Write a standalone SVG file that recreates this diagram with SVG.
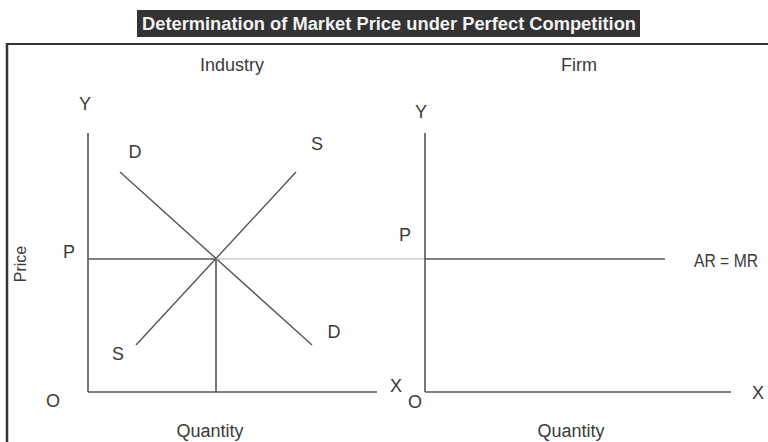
<svg xmlns="http://www.w3.org/2000/svg" width="768" height="442" viewBox="0 0 768 442">
  <style>
    .t { font-family: "Liberation Sans", Arial, sans-serif; font-size: 18px; fill: #3a3a3a; }
    .m { text-anchor: middle; }
    .ax { stroke: #555; stroke-width: 1.6; fill: none; }
    .cv { stroke: #555; stroke-width: 1.4; fill: none; }
    .lt { stroke: #b0b0b0; stroke-width: 1.2; fill: none; }
  </style>
  <rect x="0" y="0" width="768" height="442" fill="#ffffff"/>
  <g id="title">
    <rect x="137" y="10" width="503" height="27" fill="#333333"/>
    <text x="389" y="29.5" text-anchor="middle" style="font-family: 'Liberation Sans', Arial, sans-serif; font-size: 18px; font-weight: bold; fill: #f2f2f2;" textLength="494" lengthAdjust="spacingAndGlyphs">Determination of Market Price under Perfect Competition</text>
  </g>
  <g id="frame">
    <line x1="7" y1="44" x2="768" y2="44" stroke="#333" stroke-width="2"/>
    <line x1="7" y1="43" x2="7" y2="442" stroke="#333" stroke-width="2.5"/>
  </g>
  <g id="industry">
    <text class="t m" x="232" y="71">Industry</text>
    <text class="t m" x="85" y="110">Y</text>
    <text class="t m" x="135" y="158">D</text>
    <text class="t m" x="317" y="150">S</text>
    <text class="t m" x="69" y="258">P</text>
    <text class="t m" x="118" y="360">S</text>
    <text class="t m" x="334" y="338">D</text>
    <text class="t m" x="53" y="407">O</text>
    <text class="t m" x="396" y="392">X</text>
    <text class="t m" x="210" y="437">Quantity</text>
    <text class="t m" x="0" y="0" transform="translate(26,264) rotate(-90)" style="font-size:16px">Price</text>
  </g>
  <g id="firm">
    <text class="t m" x="579" y="71">Firm</text>
    <text class="t m" x="421" y="118">Y</text>
    <text class="t m" x="405" y="241">P</text>
    <text class="t" x="694" y="267" textLength="64" lengthAdjust="spacingAndGlyphs">AR = MR</text>
    <text class="t m" x="415" y="408">O</text>
    <text class="t m" x="758" y="399">X</text>
    <text class="t m" x="571" y="437">Quantity</text>
  </g>
  <g id="connectors">
    <line class="ax" x1="88" y1="133" x2="88" y2="392"/>
    <line class="ax" x1="88" y1="392" x2="377" y2="392"/>
    <line class="cv" x1="120" y1="172" x2="312" y2="345"/>
    <line class="cv" x1="296" y1="172" x2="136" y2="345"/>
    <line class="ax" x1="88" y1="259" x2="216" y2="259"/>
    <line class="ax" x1="216" y1="259" x2="216" y2="392"/>
    <line class="lt" x1="216" y1="259" x2="425" y2="259"/>
    <line class="ax" x1="425" y1="133" x2="425" y2="392"/>
    <line class="ax" x1="425" y1="392" x2="731" y2="392"/>
    <line class="ax" x1="425" y1="259" x2="665" y2="259"/>
  </g>
</svg>
